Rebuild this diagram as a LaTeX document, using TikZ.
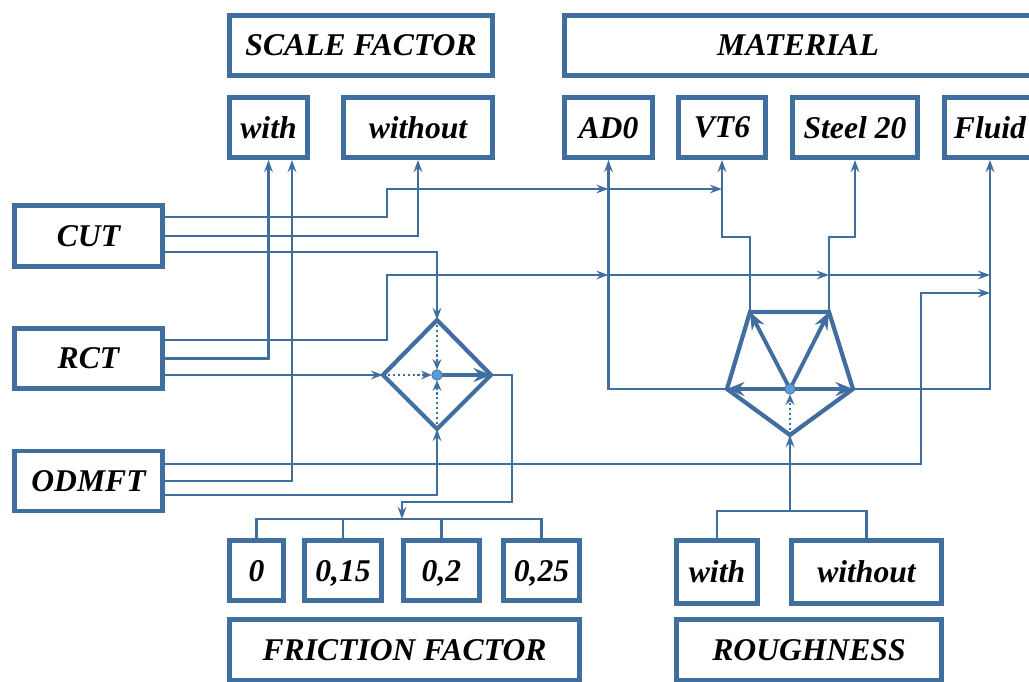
\documentclass[tikz,border=0pt]{standalone}
\usepackage{fontspec}
\setmainfont{Liberation Serif}
\usepackage{tikz}
\usetikzlibrary{arrows.meta,calc,positioning}
\definecolor{linkblue}{RGB}{64,110,158}
\definecolor{dotblue}{RGB}{91,155,213}

\begin{document}
\begin{tikzpicture}[x=0.02cm,y=-0.02cm,
  box/.style={draw=linkblue,line width=2.8pt,inner sep=0pt,minimum height=1.2cm,
    font=\fontsize{18}{20}\selectfont\bfseries\itshape,text depth=0pt},
  wire/.style={draw=linkblue,line width=1.2pt},
  arr/.style={wire,-{Stealth[length=7pt,width=5pt,inset=2.5pt]}},
  hub/.style={draw=linkblue,line width=2.4pt,line join=miter},
  hubarr/.style={draw=linkblue,line width=2.2pt,-{Stealth[length=10pt,width=8pt,inset=3.5pt]}},
  dotarr/.style={draw=linkblue,line width=1.3pt,dash pattern=on 1.4pt off 1.4pt,shorten >=3pt,-{Stealth[length=6pt,width=5pt,inset=2pt]}}]
  \useasboundingbox (0,0) rectangle (1029,682);

  \node[box,minimum width=5.26cm] (scale) at (361,45.5) {SCALE FACTOR};
  \node[box,minimum width=9.34cm] (material) at (798,45.5) {MATERIAL};
  \node[box,minimum width=1.56cm] (sWith) at (268.5,127.5) {with};
  \node[box,minimum width=2.98cm] (sWithout) at (418,127.5) {without};
  \node[box,minimum width=1.76cm] (AD0) at (608.5,127.5) {AD0};
  \node[box,minimum width=1.74cm] (VT6) at (722,127.5) {VT6};
  \node[box,minimum width=2.5cm] (steel) at (855,127.5) {Steel 20};
  \node[box,minimum width=1.82cm] (fluid) at (990,127.5) {Fluid};

  \node[box,minimum width=2.96cm,minimum height=1.22cm] (CUT) at (88.5,236) {CUT};
  \node[box,minimum width=2.96cm] (RCT) at (88.5,358.5) {RCT};
  \node[box,minimum width=2.96cm] (ODMFT) at (88.5,481) {ODMFT};

  \node[box,minimum width=1.08cm] (f0) at (256.5,570.5) {0};
  \node[box,minimum width=1.54cm] (f15) at (343,570.5) {0,15};
  \node[box,minimum width=1.52cm] (f2) at (441.5,570.5) {0,2};
  \node[box,minimum width=1.52cm] (f25) at (541.5,570.5) {0,25};
  \node[box,minimum width=7cm,minimum height=1.22cm] (friction) at (404.5,650) {FRICTION FACTOR};
  \node[box,minimum width=1.62cm,minimum height=1.26cm] (rWith) at (717,572) {with};
  \node[box,minimum width=3cm,minimum height=1.26cm] (rWithout) at (866.5,572) {without};
  \node[box,minimum width=5.3cm,minimum height=1.22cm] (rough) at (809,650) {ROUGHNESS};

  \coordinate (dT) at (437,320);
  \coordinate (dL) at (383,375);
  \coordinate (dR) at (491,375);
  \coordinate (dB) at (437,429);
  \coordinate (dC) at (437,375);
  \coordinate (pTL) at (750,312);
  \coordinate (pTR) at (829,312);
  \coordinate (pR) at (853,389);
  \coordinate (pB) at (790,435);
  \coordinate (pL) at (727,389);
  \coordinate (pC) at (790,389);
  \coordinate (fbus) at (402,519);
  \coordinate (rbus) at (790,511);

  \draw[arr] ($(CUT.east)+(0,-19)$) -| (387,189) -- (AD0.south |- 0,189);
  \draw[arr] (AD0.south |- 0,189) -- (VT6.south |- 0,189);
  \draw[arr] (CUT.east) -| (sWithout.south);
  \draw[arr] ($(CUT.east)+(0,16)$) -| (dT);

  \draw[arr] ($(RCT.east)+(0,-18.5)$) -| (387,275) -- (AD0.south |- 0,275);
  \draw[arr] (AD0.south |- 0,275) -- (pTR |- 0,275);
  \draw[arr] (pTR |- 0,275) -- (fluid.south |- 0,275);
  \draw[arr] (RCT.east) -| (sWith.south);
  \draw[arr] (RCT.east |- dL) -- (dL);

  \draw[arr] ($(ODMFT.east)+(0,-17)$) -| (921,293) -- (fluid.south |- 0,293);
  \draw[arr] (ODMFT.east) -| ($(sWith.south)+(23.5,0)$);
  \draw[arr] ($(ODMFT.east)+(0,14)$) -| (dB);

  \draw[arr] (dR) -- (512,375) |- (fbus |- 0,502) -- (fbus);
  \draw[wire] (f0.north) |- (fbus) -| (f25.north);
  \draw[wire] (f15.north) -- (f15.north |- fbus);
  \draw[wire] (f2.north) -- (f2.north |- fbus);

  \draw[wire] (rWith.north) |- (rbus) -| (rWithout.north);
  \draw[arr] (rbus) -- (pB);

  \draw[arr] (pL) -| (AD0.south);
  \draw[arr] (pR) -| (fluid.south);
  \draw[arr] (pTL) -- (pTL |- 0,237) -| (VT6.south);
  \draw[arr] (pTR) -- (pTR |- 0,237) -| (steel.south);

  \draw[hub] (dT) -- (dR) -- (dB) -- (dL) -- cycle;
  \draw[dotarr] (dT) -- (dC);
  \draw[dotarr] (dL) -- (dC);
  \draw[dotarr] (dB) -- (dC);
  \draw[hubarr] (dC) -- (dR);
  \filldraw[fill=dotblue,draw=linkblue,line width=0.4pt] (dC) circle[radius=3pt];

  \draw[hub] (pTL) -- (pTR) -- (pR) -- (pB) -- (pL) -- cycle;
  \draw[hubarr] (pC) -- (pTL);
  \draw[hubarr] (pC) -- (pTR);
  \draw[hubarr] (pC) -- (pL);
  \draw[hubarr] (pC) -- (pR);
  \draw[dotarr] (pB) -- (pC);
  \filldraw[fill=dotblue,draw=linkblue,line width=0.4pt] (pC) circle[radius=3pt];
\end{tikzpicture}
\end{document}
